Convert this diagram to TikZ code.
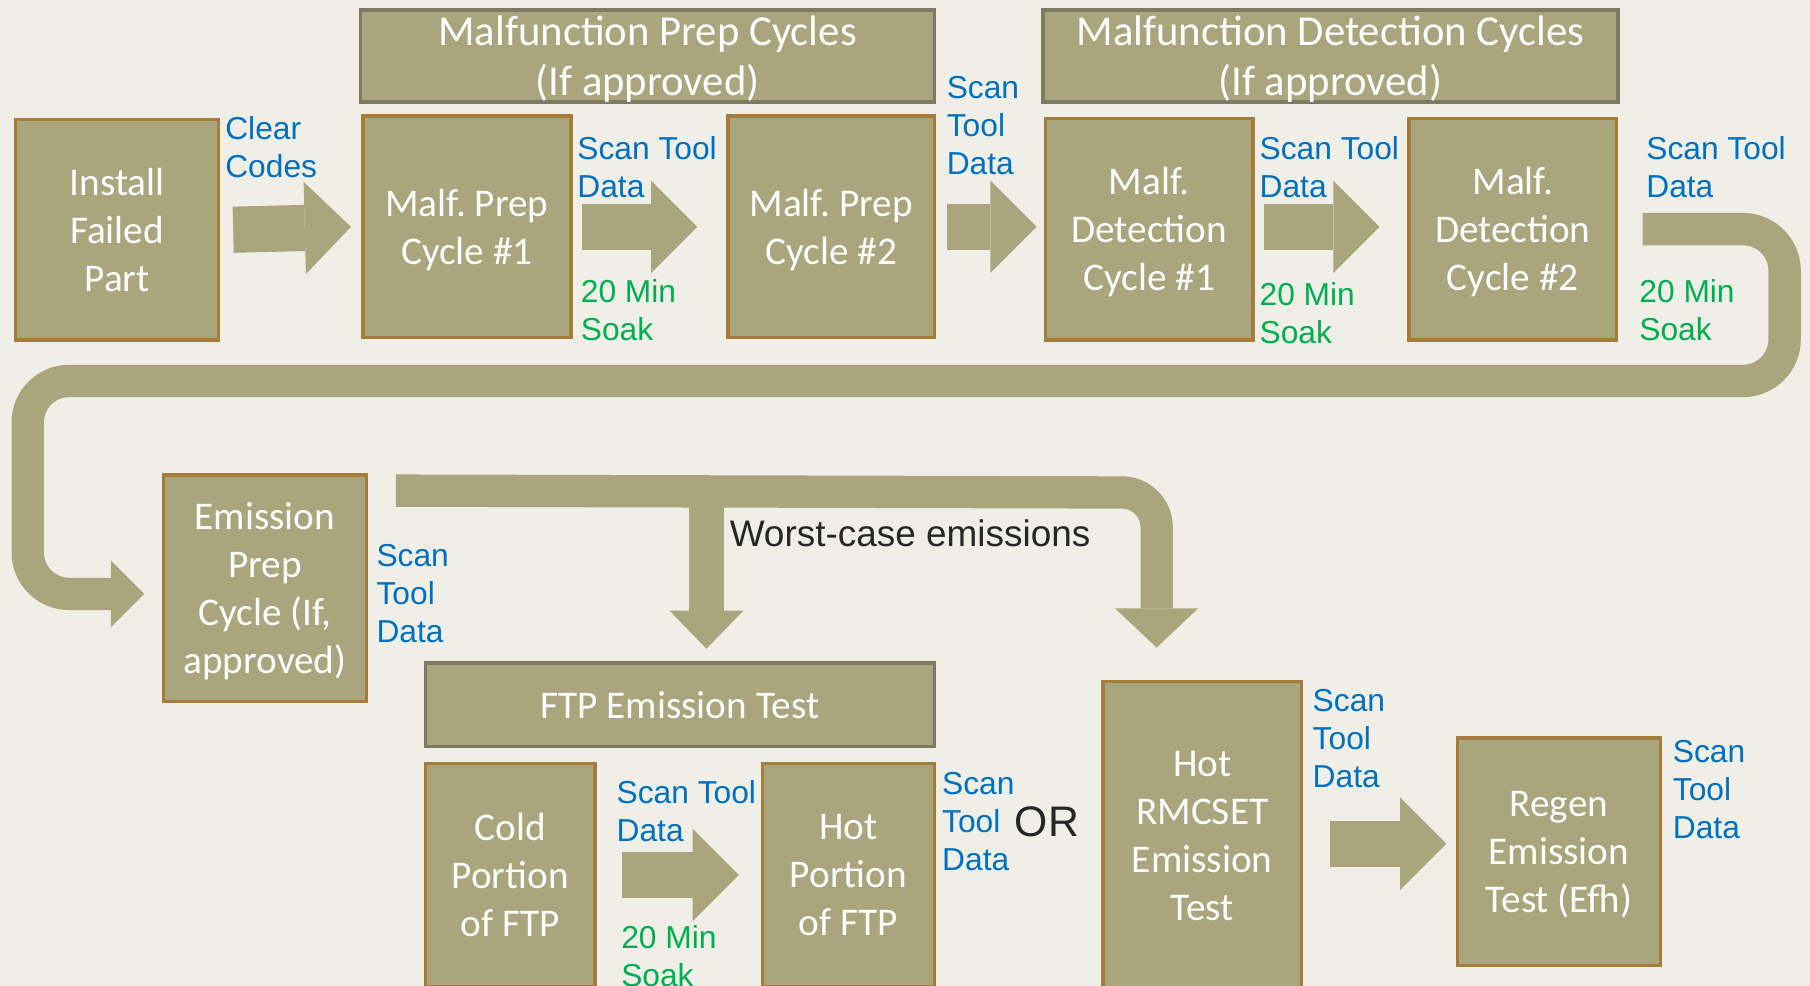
\documentclass[tikz,border=0pt]{standalone}
\usepackage{fontspec}
\setmainfont{Carlito}
\newfontfamily\arialfont{Liberation Sans}
\usepackage{xcolor}
\usepackage{tikz}
\usetikzlibrary{positioning}
\usetikzlibrary{arrows.meta}
\frenchspacing

\definecolor{bgcol}{RGB}{239,238,231}
\definecolor{boxfill}{RGB}{169,166,125}
\definecolor{boxline}{RGB}{166,124,58}
\definecolor{hdrline}{RGB}{124,123,98}
\definecolor{tooltext}{RGB}{0,112,192}
\definecolor{soaktext}{RGB}{0,176,80}
\definecolor{darktext}{RGB}{38,38,38}

\tikzset{
  stagebox/.style={draw=boxline, fill=boxfill, line width=3pt, text=white,
    align=center, inner sep=0pt, text depth=0pt,
    font=\fontsize{34}{41.5}\selectfont},
  headbox/.style={stagebox, draw=hdrline, font=\fontsize{37}{43}\selectfont},
  testbox/.style={stagebox, draw=hdrline},
  toollabel/.style={text=tooltext, align=left, inner sep=0pt, anchor=west,
    font=\arialfont\fontsize{27.5}{33}\selectfont},
  soaklabel/.style={toollabel, text=soaktext},
  remark/.style={text=darktext, inner sep=0pt, anchor=west,
    font=\arialfont\fontsize{32}{38}\selectfont},
  blockarrow/.style={draw=boxfill, line width=40pt,
    -{Triangle[length=40pt, width=80pt, line width=0pt]}},
  loopband/.style={draw=boxfill, line width=28pt, rounded corners=36pt,
    -{Triangle[length=29pt, width=58pt, line width=0pt]}},
}

\begin{document}
\begin{tikzpicture}[x=1pt,y=-1pt]
\useasboundingbox (0,0) rectangle (1568,854);
\fill[bgcol] (0,0) rectangle (1568,854);

% top row
\node[headbox, minimum width=497, minimum height=80] (hdrprep) at (561,48.5) {Malfunction Prep Cycles\\(If approved)};
\node[headbox, minimum width=498, minimum height=80] (hdrdet) at (1152.5,48.5) {Malfunction Detection Cycles\\(If approved)};
\node[stagebox, minimum width=176, minimum height=191] (inst) at (101.5,199) {Install\\Failed\\Part};
\node[stagebox, minimum width=180, minimum height=192] (prep1) at (404.5,196.5) {Malf. Prep\\Cycle \#1};
\node[stagebox, minimum width=179, minimum height=192] (prep2) at (720,196.5) {Malf. Prep\\Cycle \#2};
\node[stagebox, minimum width=180, minimum height=192] (det1) at (995.5,198.5) {Malf.\\Detection\\Cycle \#1};
\node[stagebox, minimum width=180, minimum height=192] (det2) at (1310.5,198.5) {Malf.\\Detection\\Cycle \#2};

% bottom rows
\node[stagebox, minimum width=176, minimum height=196] (emprep) at (229.5,509.5) {Emission\\Prep\\Cycle (If,\\approved)};
\node[testbox, minimum width=441, minimum height=72] (ftp) at (589,610.5) {FTP Emission Test};
\node[stagebox, minimum width=147, minimum height=193] (cold) at (442,758) {Cold\\Portion\\of FTP};
\node[stagebox, minimum width=149, minimum height=193] (hot) at (735,758) {Hot\\Portion\\of FTP};
\node[stagebox, minimum width=172, minimum height=267] (rmc) at (1041.5,724) {Hot\\RMCSET\\Emission\\Test};
\node[stagebox, minimum width=176, minimum height=197] (regen) at (1350.5,738) {Regen\\Emission\\Test (Efh)};

% labels
\node[toollabel] (clear) at (195,127.5) {Clear\\Codes};
\node[toollabel] (scanA) at (500,144.5) {Scan Tool\\Data};
\node[soaklabel] (soakA) at (503,269) {20 Min\\Soak};
\node[toollabel] (scanB) at (820,109) {Scan\\Tool\\Data};
\node[toollabel] (scanC) at (1091,144.5) {Scan Tool\\Data};
\node[soaklabel] (soakC) at (1091,271.5) {20 Min\\Soak};
\node[toollabel] (scanD) at (1426,144.5) {Scan Tool\\Data};
\node[soaklabel] (soakD) at (1420,269) {20 Min\\Soak};
\node[toollabel] (scanE) at (326,514) {Scan\\Tool\\Data};
\node[toollabel] (scanF) at (534,702.5) {Scan Tool\\Data};
\node[soaklabel] (soakF) at (538,828.5) {20 Min\\Soak};
\node[toollabel] (scanG) at (816,712) {Scan\\Tool\\Data};
\node[toollabel] (scanH) at (1137,640) {Scan\\Tool\\Data};
\node[toollabel] (scanI) at (1449,684) {Scan\\Tool\\Data};
\node[remark, font=\arialfont\fontsize{37}{44}\selectfont] (orword) at (879,712) {OR};
\node[remark] (worst) at (632,462) {Worst-case emissions};

% block arrows
\draw[blockarrow] ([xshift=11pt]inst.east) -- ([xshift=-9pt]prep1.west);
\draw[blockarrow] ([xshift=8pt]prep1.east) -- ([xshift=-25pt]prep2.west);
\draw[blockarrow] ([xshift=9pt]prep2.east) -- ([xshift=-6pt,yshift=2pt]det1.west);
\draw[blockarrow] ([xshift=8pt,yshift=2pt]det1.east) -- ([xshift=-24pt,yshift=2pt]det2.west);
\draw[blockarrow] ([xshift=22pt]cold.east) -- ([xshift=-19pt]hot.west);
\draw[blockarrow] ([xshift=23pt,yshift=-7pt]rmc.east) -- ([xshift=-8pt,yshift=7pt]regen.west);

% loop back to emission prep
\draw[loopband] ([xshift=21pt]det2.east) -- (1546,198.5) -- (1546,330)
  -- (24,330) -- (24,514.5) -- ([xshift=-15pt,yshift=-5pt]emprep.west);

% split to the two emission tests
\draw[loopband, rounded corners=30pt, -{Triangle[length=34pt, width=72pt, line width=0pt]}]
  ([xshift=24pt,yshift=-15pt]emprep.north east) -- (1002,426.7)
  -- ([xshift=-39.5pt,yshift=28pt]rmc.north);
\draw[loopband, line width=30pt, -{Triangle[length=33pt, width=64pt, line width=0pt]}]
  (612,426.7) -- ([xshift=23pt,yshift=11pt]ftp.north);
\end{tikzpicture}
\end{document}
